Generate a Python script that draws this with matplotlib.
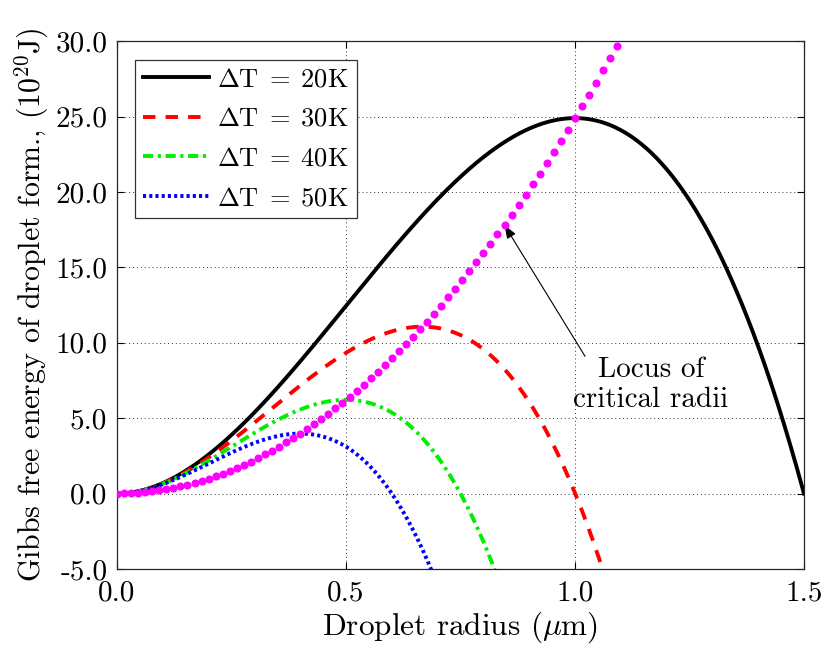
import numpy as np
import matplotlib
matplotlib.use("Agg")
import matplotlib.pyplot as plt

# ---- data ----
delta_T_labels = [r"$\Delta\mathrm{T}\;=\;20\mathrm{K}$", r"$\Delta\mathrm{T}\;=\;30\mathrm{K}$",
                  r"$\Delta\mathrm{T}\;=\;40\mathrm{K}$", r"$\Delta\mathrm{T}\;=\;50\mathrm{K}$"]
critical_radius = [1.0, 0.667, 0.5, 0.4]        # um, peak positions
critical_energy = [24.9, 11.07, 6.22, 3.98]     # 1e20 J, peak heights
colors = ["black", "red", "#00ee00", "blue"]
locus_coeff = 24.9                              # locus: G* = c * r*^2
locus_r_max = 1.2
locus_n = 79

xticks = [0.0, 0.5, 1.0, 1.5]
xticklabels = ["0.0", "0.5", "1.0", "1.5"]
yticks = [-5, 0, 5, 10, 15, 20, 25, 30]
yticklabels = ["-5.0", "0.0", "5.0", "10.0", "15.0", "20.0", "25.0", "30.0"]

plt.rcParams["font.family"] = "cmr10"
plt.rcParams["mathtext.fontset"] = "cm"
plt.rcParams["axes.unicode_minus"] = False

fig = plt.figure(figsize=(8.24, 6.54), dpi=100)
ax = fig.add_axes([0.142, 0.130, 0.8337, 0.807])

lw = 2.8
styles = ["-", (0, (3.2, 2.6)), (0, (2.6, 1.2, 0.8, 1.2)), (0, (0.8, 0.8))]
for rs, gs, c, ls, lab in zip(critical_radius, critical_energy, colors, styles, delta_T_labels):
    r = np.linspace(0, 1.5, 900)
    g = gs * (3 * (r / rs) ** 2 - 2 * (r / rs) ** 3)
    ax.plot(r, g, color=c, lw=lw, linestyle=ls, label=lab, dash_capstyle="butt")

rl = np.linspace(0, locus_r_max, locus_n)
ax.plot(rl, locus_coeff * rl ** 2, linestyle="none", marker="o", ms=4.8,
        color="magenta", mec="magenta", zorder=5)

ax.set_xlim(0, 1.5)
ax.set_ylim(-5, 30)
ax.set_xticks(xticks)
ax.set_xticklabels(xticklabels)
ax.set_yticks(yticks)
ax.set_yticklabels(yticklabels)
ax.tick_params(direction="in", top=True, right=True, length=5, labelsize=21, width=0.8)
ax.tick_params(axis="y", pad=7)
ax.tick_params(axis="x", pad=8)
ax.grid(True, linestyle=(0, (1, 3)), color="black", lw=0.7, alpha=0.8)
for s in ax.spines.values():
    s.set_linewidth(0.9)
    s.set_color("#262626")

ax.set_xlabel(r"Droplet radius ($\mu$m)", fontsize=22.5, labelpad=2)
ax.set_ylabel(r"Gibbs free energy of droplet form., (10$^{20}$J)", fontsize=21.5, labelpad=3)

leg = ax.legend(loc="upper left", fontsize=19, handlelength=2.5, handletextpad=0.3,
                borderpad=0.3, labelspacing=0.6, fancybox=False, framealpha=1,
                borderaxespad=0.7, bbox_to_anchor=(0.0, 1.0))
leg.get_frame().set_edgecolor("#333333")
leg.get_frame().set_linewidth(0.9)

ax.annotate("", xy=(0.846, 17.8), xytext=(1.022, 9.1),
            arrowprops=dict(arrowstyle="-|>,head_length=0.8,head_width=0.3",
                            color="black", lw=0.8, shrinkA=0, shrinkB=0))
ax.text(1.166, 7.2, "Locus of\ncritical radii", fontsize=21, ha="center", va="center",
        linespacing=1.2)

fig.savefig("out.png", dpi=100)
